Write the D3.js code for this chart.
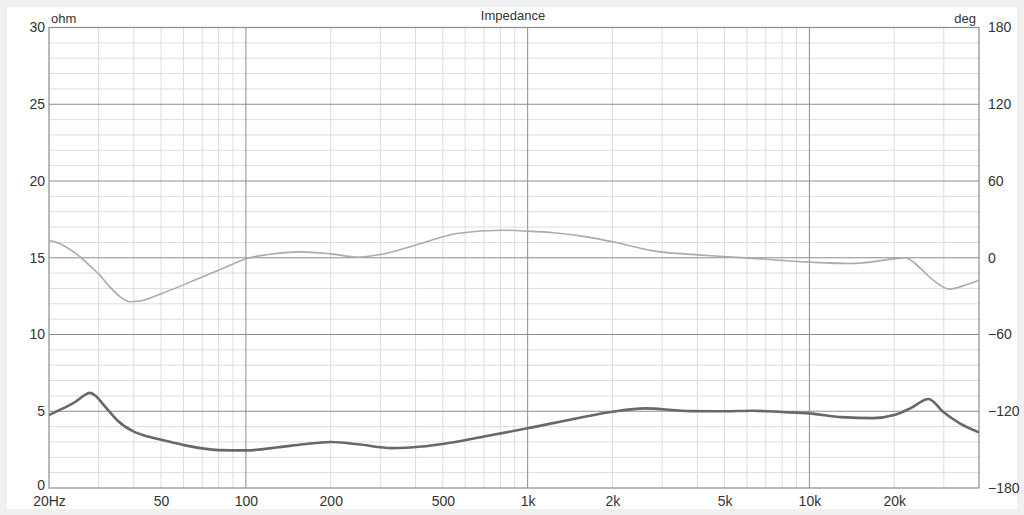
<!DOCTYPE html>
<html><head><meta charset="utf-8">
<script src="https://cdn.jsdelivr.net/npm/d3@7"></script>
<style>body{margin:0;background:#f0f0f0;}svg{display:block;}</style>
</head><body>
<svg id="c" width="1024" height="515"></svg>
<script>
const impFreq = [20,22.5,25,26.5,27.9,29.3,30.5,32.5,35,40,45,50,60,80,100,130,160,200,250,330,420,500,700,1000,1500,2000,2600,3800,5000,6300,8000,10000,13000,16800,20000,22900,26500,29800,34300,40000];
const impOhm  = [4.75,5.2,5.65,6.0,6.2,6.0,5.65,5.05,4.4,3.67,3.35,3.15,2.8,2.47,2.45,2.65,2.85,3.0,2.85,2.6,2.7,2.87,3.35,3.89,4.55,4.97,5.19,5.01,5.0,5.03,4.95,4.86,4.62,4.55,4.75,5.2,5.8,4.97,4.2,3.63];
const phFreq = [20,21.9,23.7,25.8,27.9,30.3,32.8,35.9,38.7,42,46,50,60,70,80,90,100,120,156,200,250,300,430,560,820,1000,1240,1620,2130,2790,3670,4800,6300,10000,14000,20000,22000,23700,27500,31400,35000,40000];
const phDeg  = [13.7,11,6.5,0.7,-6.2,-13.6,-22.6,-30.8,-34.4,-33.8,-31.2,-28.2,-21.2,-15,-9.8,-4.9,-0.8,2.5,4.6,3,0.5,2.6,12,19,21.5,20.8,19.5,16.3,11.2,5.4,2.8,1.2,-0.5,-3.4,-4.5,-0.9,0,-4.5,-17.5,-24.5,-22,-17.5];
const xTickVals = [20,50,100,200,500,1000,2000,5000,10000,20000];
const xTickLabels = ["20Hz","50","100","200","500","1k","2k","5k","10k","20k"];
const yLeftTicks = [0,5,10,15,20,25,30];
const yRightTicks = [-180,-120,-60,0,60,120,180];

const svg = d3.select("#c");
const L=49, R=979, T=27.5, B=488;
svg.append("rect").attr("x",7).attr("y",7).attr("width",1010).attr("height",502).attr("fill","#fff");

const x = d3.scaleLog().domain([20,40000]).range([L,R]);
const y = d3.scaleLinear().domain([0,30]).range([B,T]);
const y2 = d3.scaleLinear().domain([-180,180]).range([B,T]);

const minorX = [];
[10,100,1000,10000].forEach(d=>{for(let k=1;k<=9;k++){const v=d*k; if(v>20&&v<40000) minorX.push(v);}});
const g = svg.append("g");
g.selectAll(".vm").data(minorX.filter(v=>![100,1000,10000].includes(v))).join("line")
 .attr("x1",d=>x(d)).attr("x2",d=>x(d)).attr("y1",T).attr("y2",B)
 .attr("stroke","#dcdcdc").attr("stroke-width",1);
const minorY = d3.range(1,30).filter(v=>v%5!==0);
g.selectAll(".hm").data(minorY).join("line")
 .attr("x1",L).attr("x2",R).attr("y1",d=>y(d)).attr("y2",d=>y(d))
 .attr("stroke","#dcdcdc").attr("stroke-width",1);
g.selectAll(".hM").data([5,10,15,20,25]).join("line")
 .attr("x1",L).attr("x2",R).attr("y1",d=>y(d)).attr("y2",d=>y(d))
 .attr("stroke","#8c8c8c").attr("stroke-width",1);
g.selectAll(".vM").data([100,1000,10000]).join("line")
 .attr("x1",d=>x(d)).attr("x2",d=>x(d)).attr("y1",T).attr("y2",B)
 .attr("stroke","#8c8c8c").attr("stroke-width",1);
svg.append("rect").attr("x",L).attr("y",T).attr("width",R-L).attr("height",B-T)
 .attr("fill","none").attr("stroke","#8c8c8c").attr("stroke-width",1.2);

const font = "'Liberation Sans', Arial, sans-serif";
const axL = d3.axisLeft(y).tickValues(yLeftTicks).tickSize(0).tickPadding(4);
const gl = svg.append("g").attr("transform",`translate(${L},0)`).call(axL);
const axR = d3.axisRight(y2).tickValues(yRightTicks).tickSize(0).tickPadding(9);
const gr = svg.append("g").attr("transform",`translate(${R},0)`).call(axR);
const axB = d3.axisBottom(x).tickValues(xTickVals).tickFormat((d,i)=>xTickLabels[i]).tickSize(0).tickPadding(8);
const gb = svg.append("g").attr("transform",`translate(0,${B})`).call(axB);
[gl,gr,gb].forEach(a=>{a.select(".domain").remove();a.selectAll("text").attr("font-family",font).attr("font-size",14).attr("fill","#333");});
gl.selectAll(".tick").filter(d=>d===0).select("text").attr("dy","0.1em");

svg.append("text").attr("x",L+2).attr("y",T-5).text("ohm").attr("font-family",font).attr("font-size",13).attr("fill","#333");
svg.append("text").attr("x",R-3).attr("y",T-5).attr("text-anchor","end").text("deg").attr("font-family",font).attr("font-size",13).attr("fill","#333");
svg.append("text").attr("x",513).attr("y",20).attr("text-anchor","middle").text("Impedance").attr("font-family",font).attr("font-size",13).attr("fill","#333");

svg.append("clipPath").attr("id","pc").append("rect").attr("x",L).attr("y",T).attr("width",R-L).attr("height",B-T);
const lp = d3.line().x(d=>x(d[0])).y(d=>y2(d[1])).curve(d3.curveMonotoneX);
const li = d3.line().x(d=>x(d[0])).y(d=>y(d[1])).curve(d3.curveMonotoneX);
svg.append("path").attr("clip-path","url(#pc)").attr("d",lp(phFreq.map((f,i)=>[f,phDeg[i]])))
 .attr("fill","none").attr("stroke","#ababab").attr("stroke-width",1.6);
svg.append("path").attr("clip-path","url(#pc)").attr("d",li(impFreq.map((f,i)=>[f,impOhm[i]])))
 .attr("fill","none").attr("stroke","#686868").attr("stroke-width",2.6);
</script>
</body></html>
